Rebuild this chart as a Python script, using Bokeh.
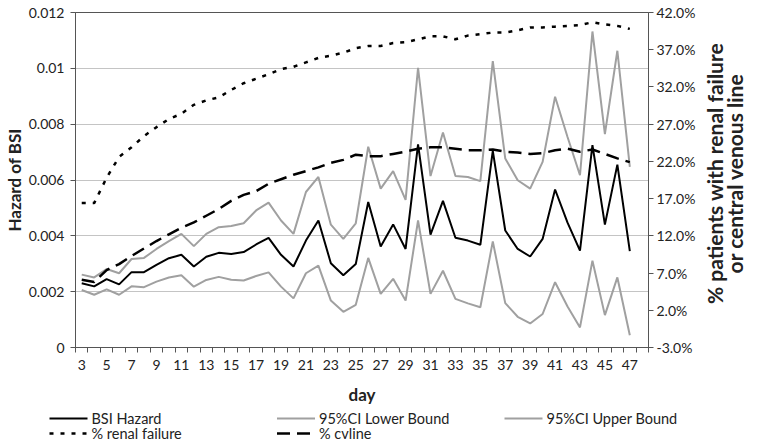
import math
from bokeh.plotting import figure
from bokeh.layouts import column, row
from bokeh.models import (Range1d, LinearAxis, FixedTicker, CustomJSTickFormatter,
                          PrintfTickFormatter, Label)
from bokeh.core.properties import value
from bokeh.embed import file_html
from bokeh.resources import INLINE

days = list(range(3, 48))
bsi_hazard = [0.0023, 0.00219, 0.00245, 0.00226, 0.0027, 0.0027, 0.00296, 0.0032, 0.00332,
              0.0029, 0.00325, 0.00339, 0.00335, 0.00342, 0.00369, 0.00393, 0.00332, 0.0029,
              0.00383, 0.00455, 0.00302, 0.00259, 0.00299, 0.00521, 0.00362, 0.00441, 0.00353,
              0.00728, 0.00404, 0.00525, 0.00393, 0.00383, 0.00368, 0.00704, 0.00419, 0.00353,
              0.00326, 0.00389, 0.00566, 0.00447, 0.00347, 0.00725, 0.0044, 0.00655, 0.00345]
ci_lower = [0.00206, 0.00189, 0.00208, 0.00189, 0.00219, 0.00216, 0.00236, 0.00251, 0.00259,
            0.00218, 0.00242, 0.00253, 0.00243, 0.0024, 0.00256, 0.00269, 0.00218, 0.00176,
            0.00266, 0.00293, 0.00168, 0.00128, 0.00153, 0.00321, 0.00192, 0.00246, 0.00168,
            0.00455, 0.00192, 0.00275, 0.00174, 0.00158, 0.00144, 0.0038, 0.00159, 0.0011,
            0.00086, 0.0012, 0.00234, 0.00147, 0.00072, 0.00311, 0.00116, 0.00251, 0.00044]
ci_upper = [0.00261, 0.00251, 0.00281, 0.00266, 0.00317, 0.00321, 0.00353, 0.00381, 0.00407,
            0.00363, 0.00407, 0.00431, 0.00435, 0.00445, 0.00491, 0.00519, 0.00455, 0.00407,
            0.00557, 0.00611, 0.0044, 0.00389, 0.00445, 0.00719, 0.00569, 0.00632, 0.00529,
            0.01002, 0.00614, 0.0077, 0.00614, 0.00611, 0.00596, 0.01026, 0.00677, 0.00599,
            0.00569, 0.00665, 0.00898, 0.00754, 0.00617, 0.01132, 0.00764, 0.01063, 0.00647]
renal_failure_pct = [16.4, 16.4, 19.8, 22.6, 23.9, 25.4, 26.6, 27.7, 28.4, 29.6, 30.2, 30.6,
                     31.6, 32.5, 33.1, 33.7, 34.4, 34.7, 35.3, 35.9, 36.2, 36.6, 37.2, 37.5,
                     37.5, 37.9, 38.0, 38.4, 38.8, 38.8, 38.4, 38.9, 39.1, 39.3, 39.3, 39.6,
                     40.0, 40.0, 40.1, 40.2, 40.3, 40.7, 40.4, 40.2, 39.8]
cvline_pct = [6.1, 5.8, 7.4, 8.2, 9.3, 10.3, 11.3, 12.2, 13.1, 13.8, 14.7, 15.6, 16.7, 17.5,
              18.0, 19.0, 19.6, 20.2, 20.7, 21.2, 21.8, 22.2, 22.9, 22.7, 22.7, 23.0, 23.3,
              23.7, 23.9, 23.9, 23.7, 23.5, 23.5, 23.6, 23.3, 23.2, 23.0, 23.1, 23.5, 23.7,
              23.3, 23.6, 23.0, 22.4, 21.9]
x_tick_days = list(range(3, 48, 2))
left_ticks = [0, 0.002, 0.004, 0.006, 0.008, 0.010, 0.012]
right_ticks = list(range(-3, 43, 5))
right_title_lines = ["% patients with renal failure", "or central venous line"]
legend_labels = ["BSI Hazard", "95%CI Lower Bound", "95%CI Upper Bound",
                 "% renal failure", "% cvline"]
legend_cols = [0, 1, 2, 0, 1]
legend_rows = [0, 0, 0, 1, 1]

FONT = "Lato"
TXT = "#222222"
AX = "#555555"
GRAY = "#a0a0a0"
styles = [dict(color="black", line_width=2),
          dict(color=GRAY, line_width=2),
          dict(color=GRAY, line_width=2),
          dict(color="black", line_width=2.5, line_dash="4 7"),
          dict(color="black", line_width=2.5, line_dash="13 7")]

# ---------------- main chart ----------------
P_W, P_H = 701, 408
p = figure(width=P_W, height=P_H, output_backend="svg", toolbar_location=None,
           x_range=Range1d(2.5, 48.5), y_range=Range1d(0, 0.012),
           min_border_top=12, min_border_left=69, min_border_right=53, min_border_bottom=61)
p.extra_y_ranges = {"pct": Range1d(-3, 42)}
p.outline_line_color = AX
p.outline_line_width = 1

xa = p.xaxis[0]
xa.ticker = FixedTicker(ticks=x_tick_days, minor_ticks=[d - 0.5 for d in range(3, 50)])
xa.major_tick_out = 0
xa.major_tick_in = 0
xa.minor_tick_out = 5
xa.minor_tick_in = 0
xa.minor_tick_line_color = AX
xa.axis_line_color = AX
xa.axis_label = "day"
xa.major_label_standoff = 7
xa.axis_label_standoff = 11

ya = p.yaxis[0]
ya.ticker = FixedTicker(ticks=left_ticks, minor_ticks=[])
ya.formatter = CustomJSTickFormatter(code="return String(parseFloat(tick.toFixed(4)));")
ya.major_tick_out = 5
ya.major_tick_in = 0
ya.major_tick_line_color = AX
ya.axis_line_color = AX
ya.axis_label = "Hazard of BSI"
ya.major_label_standoff = 6
ya.axis_label_standoff = 1

ra = LinearAxis(y_range_name="pct", ticker=FixedTicker(ticks=right_ticks, minor_ticks=[]),
                formatter=PrintfTickFormatter(format="%.1f%%"))
ra.major_tick_out = 5
ra.major_tick_in = 0
ra.major_tick_line_color = AX
ra.axis_line_color = AX
ra.major_label_standoff = 3
p.add_layout(ra, "right")

for ax in [xa, ya, ra]:
    ax.major_label_text_font = FONT
    ax.major_label_text_font_size = "14px"
    ax.major_label_text_color = TXT
    ax.axis_label_text_font = FONT
    ax.axis_label_text_font_style = "bold"
    ax.axis_label_text_font_size = "17px"
    ax.axis_label_text_color = TXT

p.ygrid.ticker = FixedTicker(ticks=left_ticks)
p.ygrid.grid_line_color = "#c4c4c4"
p.xgrid.visible = False

p.line(days, ci_lower, **styles[1])
p.line(days, ci_upper, **styles[2])
p.line(days, bsi_hazard, **styles[0])
p.line(days, renal_failure_pct, y_range_name="pct", **styles[3])
p.line(days, cvline_pct, y_range_name="pct", **styles[4])

# ---------------- right-hand axis title (reads bottom-to-top) ----------------
RT_W = 45
prt = figure(width=RT_W, height=P_H, output_backend="svg", toolbar_location=None,
             x_range=Range1d(0, RT_W), y_range=Range1d(0, P_H),
             x_axis_type=None, y_axis_type=None, min_border=0,
             outline_line_color=None)
prt.grid.visible = False
for i, line in enumerate(right_title_lines):
    prt.add_layout(Label(x=12.5 + 20.5 * i, y=P_H - 196, text=line, angle=math.pi / 2,
                         text_align="center", text_baseline="middle", text_font=FONT,
                         text_font_style="bold", text_font_size="21px", text_color=TXT))

# ---------------- legend strip (pixel coordinates, y up) ----------------
LG_W, LG_H = P_W + RT_W, 446 - P_H
plg = figure(width=LG_W, height=LG_H, output_backend="svg", toolbar_location=None,
             x_range=Range1d(0, LG_W), y_range=Range1d(0, LG_H),
             x_axis_type=None, y_axis_type=None, min_border=0,
             outline_line_color=None)
plg.grid.visible = False
COL_X0, COL_DX, GLYPH_W = 49, 227.5, 38
ROW_Y0, ROW_DY = LG_H - 10, 15
for lab, st, c, r in zip(legend_labels, styles, legend_cols, legend_rows):
    x0 = COL_X0 + c * COL_DX
    y0 = ROW_Y0 - r * ROW_DY
    plg.line([x0, x0 + GLYPH_W], [y0, y0], **st)
    plg.text(x=[x0 + GLYPH_W + 4], y=[y0], text=[lab], text_font=value(FONT),
             text_font_size="14.5px", text_color=TXT, text_baseline="middle",
             text_align="left")

layout = column(row(p, prt, spacing=0), plg, spacing=0)
open("out.html", "w").write(file_html(layout, INLINE))
